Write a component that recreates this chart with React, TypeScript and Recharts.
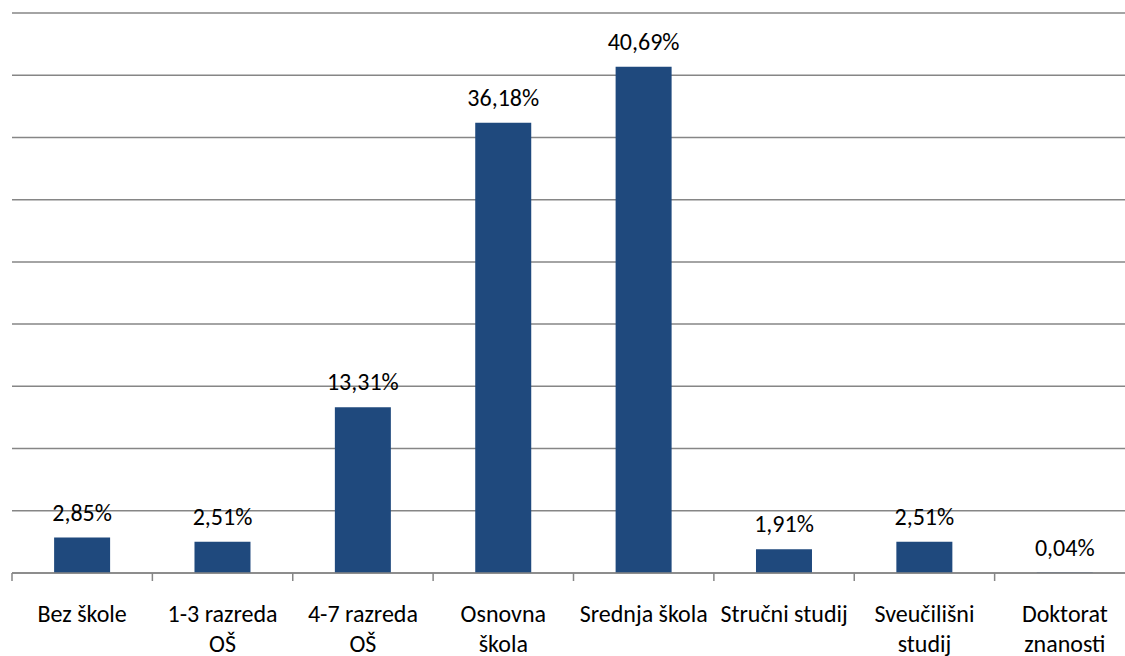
import React from 'react'
import { BarChart, Bar, XAxis, YAxis, CartesianGrid, LabelList } from 'recharts'

const categories = [
  'Bez škole',
  '1-3 razreda OŠ',
  '4-7 razreda OŠ',
  'Osnovna škola',
  'Srednja škola',
  'Stručni studij',
  'Sveučilišni studij',
  'Doktorat znanosti',
]

// label lines under the axis, as in the original
const categoryLines = [
  ['Bez škole'],
  ['1-3 razreda', 'OŠ'],
  ['4-7 razreda', 'OŠ'],
  ['Osnovna', 'škola'],
  ['Srednja škola'],
  ['Stručni studij'],
  ['Sveučilišni', 'studij'],
  ['Doktorat', 'znanosti'],
]

const shares = [2.85, 2.51, 13.31, 36.18, 40.69, 1.91, 2.51, 0.04]

const yTicks = [0, 5, 10, 15, 20, 25, 30, 35, 40, 45]

const data = categories.map((name, i) => ({ name, value: shares[i] }))

if (typeof document !== 'undefined') document.body.style.margin = '0'

const FONT = 'Carlito, Lato, sans-serif'
const GRID = '#868686'
const BAR = '#1F497D'

const CHART_W = 1135
const MARGIN = { top: 13, right: 0, bottom: 0, left: 12 }
const BAND = (CHART_W - MARGIN.left - MARGIN.right) / categories.length

const fmt = (v: number) => v.toFixed(2).replace('.', ',') + '%'

function CategoryTick(props: any) {
  const { x, y, payload, index } = props
  const lines = categoryLines[index ?? payload.index] || [payload.value]
  const left = x - BAND / 2
  return (
    <g>
      <line x1={left} x2={left} y1={y - 32} y2={y - 24} stroke={GRID} strokeWidth={1.5} />
      <text x={x} y={y} textAnchor="middle" fontFamily={FONT} fontSize={24} fill="#000">
        {lines.map((l, i) => (
          <tspan key={i} x={x} dy={i === 0 ? '0.71em' : 30}>
            {l}
          </tspan>
        ))}
      </text>
    </g>
  )
}

export default function App() {
  return (
    <div style={{ width: 1125, height: 656, overflow: 'hidden', background: '#fff' }}>
      <BarChart width={CHART_W} height={656} data={data} margin={MARGIN} barCategoryGap="30%">
        <CartesianGrid vertical={false} stroke={GRID} strokeWidth={1.5} />
        <YAxis hide domain={[0, 45]} ticks={yTicks} />
        <XAxis
          dataKey="name"
          height={83}
          interval={0}
          tickLine={false}
          tickSize={7}
          tickMargin={25}
          axisLine={{ stroke: GRID, strokeWidth: 1.5 }}
          tick={<CategoryTick />}
        />
        <Bar dataKey="value" fill={BAR} isAnimationActive={false}>
          <LabelList
            dataKey="value"
            position="top"
            offset={17}
            formatter={(v: any) => fmt(Number(v))}
            style={{ fontFamily: FONT, fontSize: 24, fill: '#000' }}
          />
        </Bar>
      </BarChart>
    </div>
  )
}
